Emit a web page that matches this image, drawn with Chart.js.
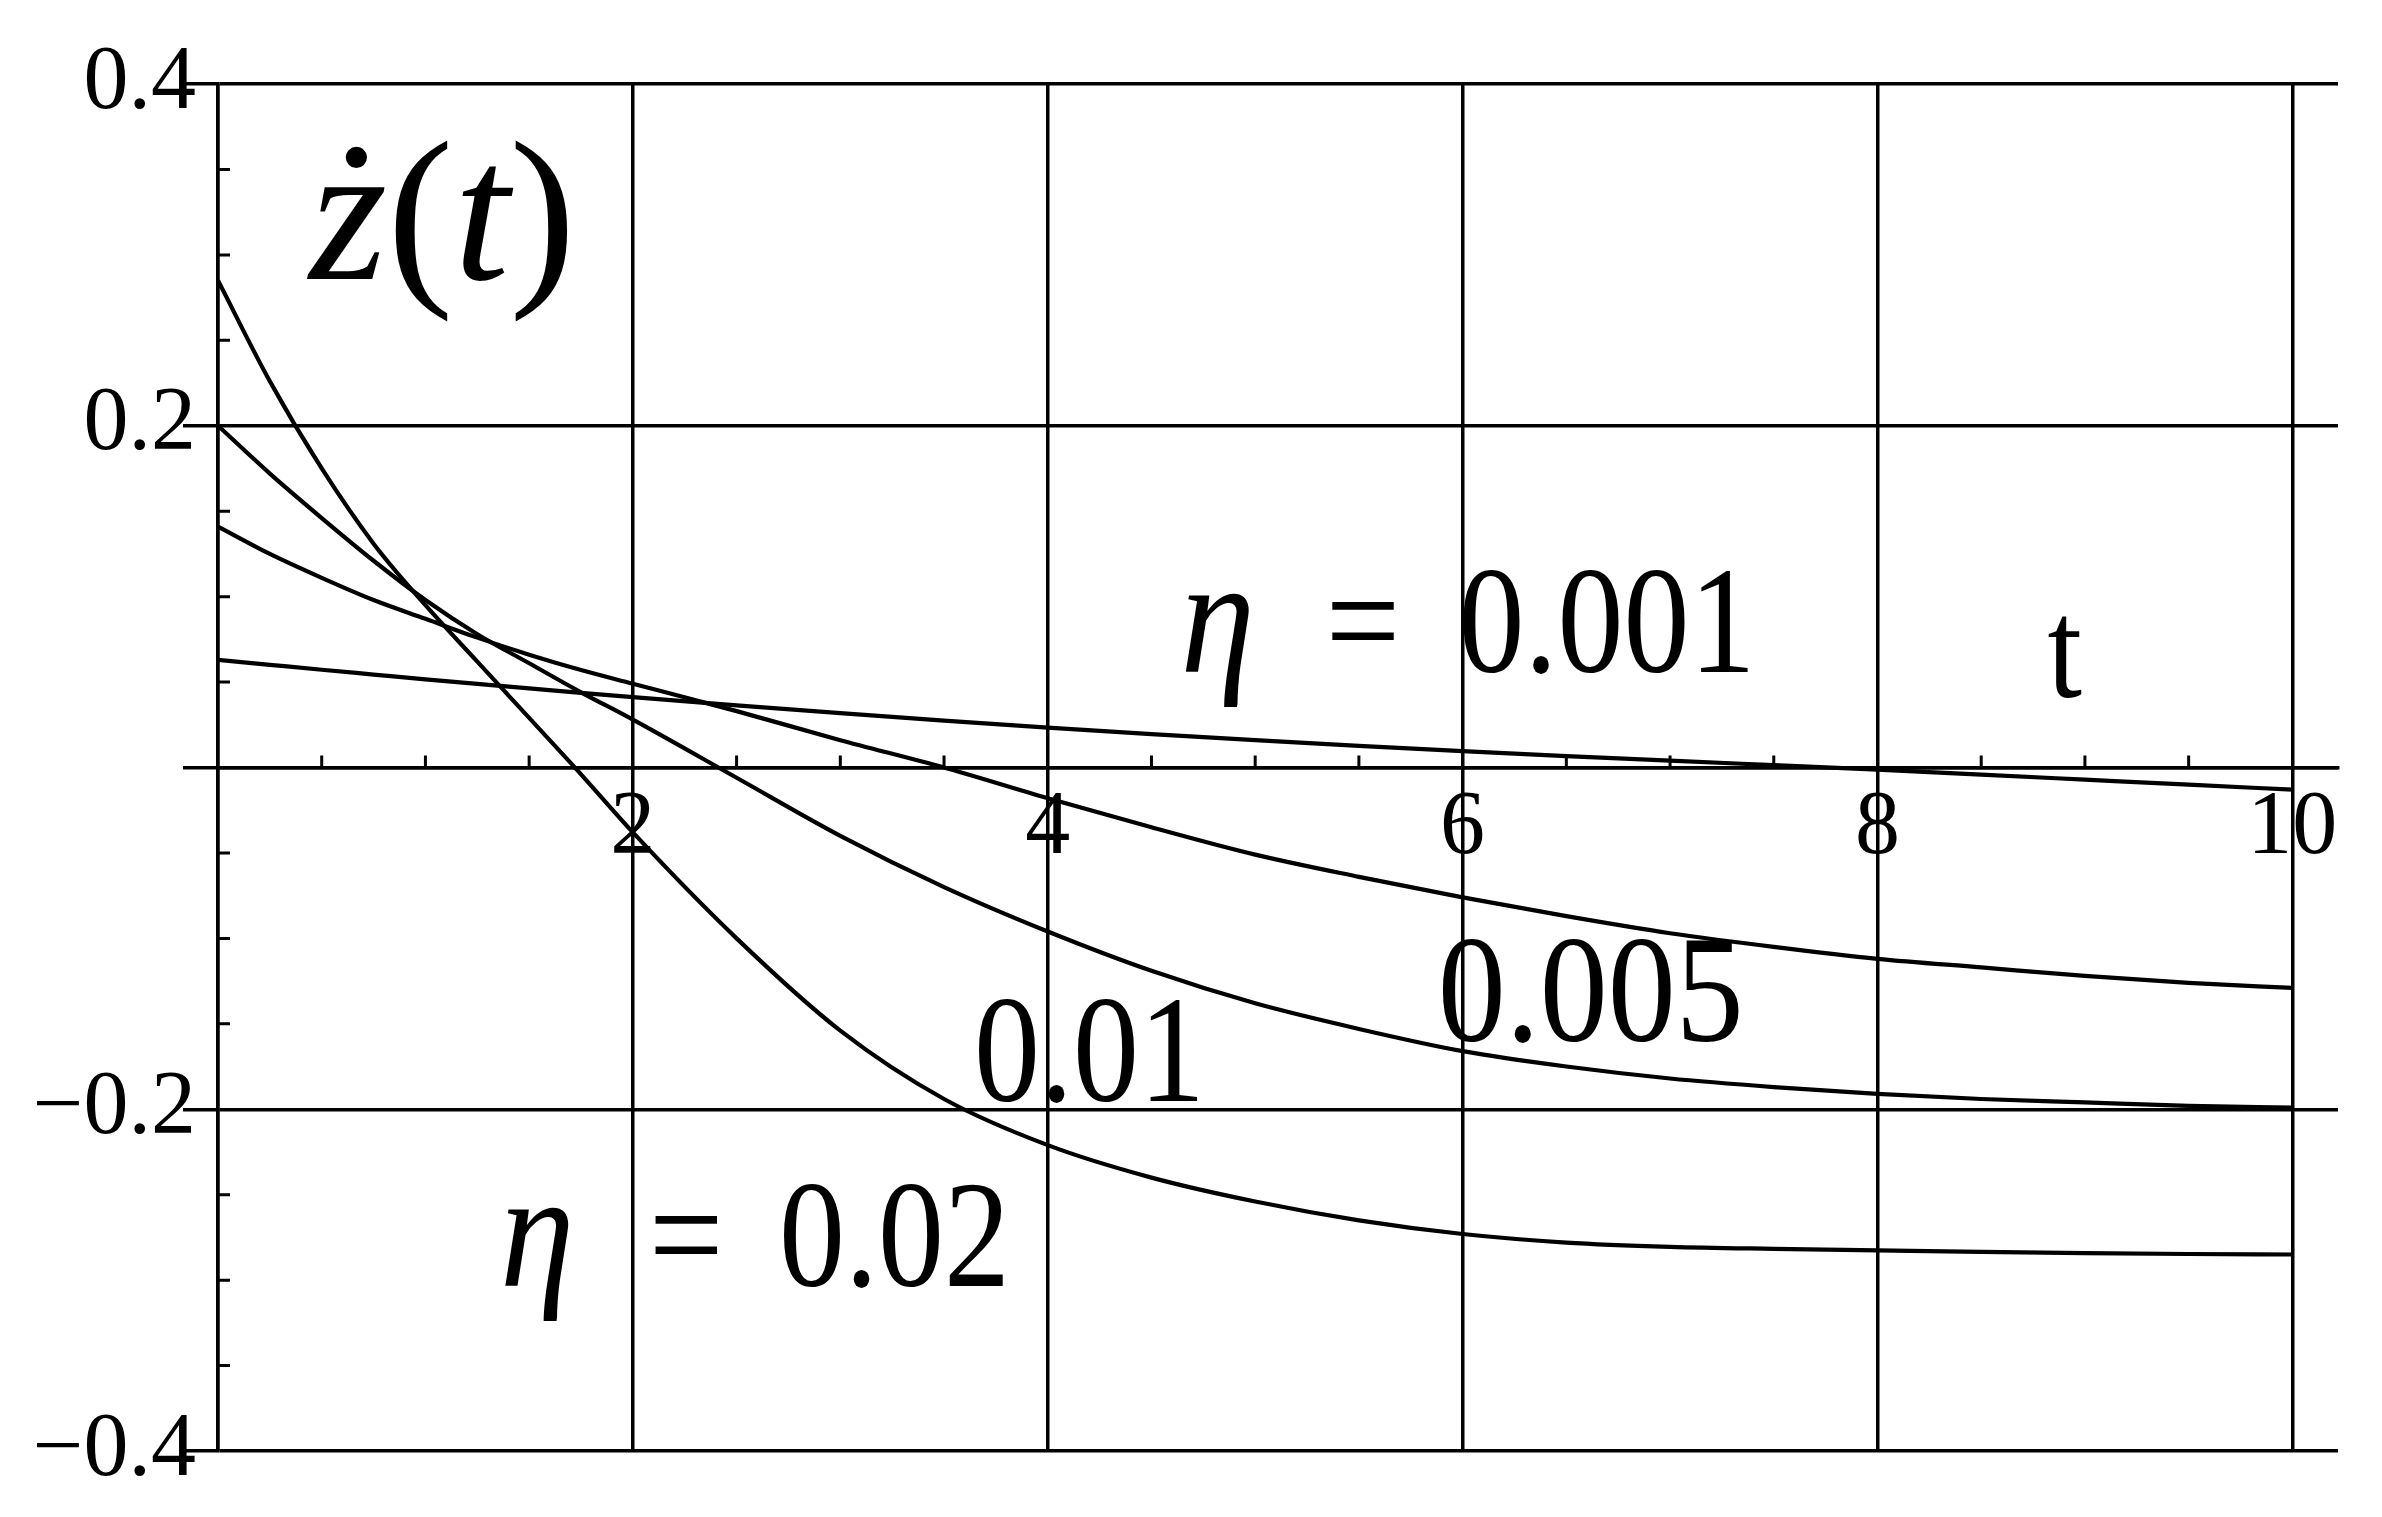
<!DOCTYPE html>
<html>
<head>
<meta charset="utf-8">
<script src="https://cdn.jsdelivr.net/npm/chart.js@4.4.1/dist/chart.umd.min.js"></script>
<style>
  html, body { margin: 0; padding: 0; background: #fff; }
  canvas { display: block; }
</style>
</head>
<body>
<canvas id="zChart" width="2382" height="1517"></canvas>
<script>
// values: every 0.25 in t up to 2, then every 0.5
const tValues = [0, 0.25, 0.5, 0.75, 1, 1.25, 1.5, 1.75, 2, 2.5, 3, 3.5, 4, 4.5, 5, 5.5, 6, 6.5, 7, 7.5, 8, 8.5, 9, 9.5, 10];
const eta0001 = [0.063, 0.0601, 0.0572, 0.0544, 0.0516, 0.0489, 0.0463, 0.0437, 0.0412, 0.0364, 0.0318, 0.0274, 0.0233, 0.0195, 0.016, 0.0127, 0.0096, 0.0067, 0.004, 0.0014, -0.0012, -0.0042, -0.0071, -0.0100, -0.013];
const eta0005 = [0.141, 0.125, 0.111, 0.098, 0.087, 0.076, 0.066, 0.057, 0.049, 0.033, 0.016, 0.000, -0.018, -0.035, -0.051, -0.064, -0.076, -0.087, -0.097, -0.105, -0.112, -0.117, -0.122, -0.126, -0.129];
const eta001 = [0.200, 0.172, 0.146, 0.121, 0.098, 0.078, 0.061, 0.044, 0.028, -0.006, -0.040, -0.070, -0.096, -0.119, -0.138, -0.153, -0.166, -0.175, -0.182, -0.187, -0.191, -0.194, -0.196, -0.198, -0.199];
const eta002 = [0.285, 0.226, 0.175, 0.131, 0.095, 0.062, 0.029, -0.004, -0.038, -0.100, -0.154, -0.194, -0.221, -0.240, -0.254, -0.265, -0.273, -0.278, -0.2805, -0.2817, -0.2826, -0.2835, -0.2842, -0.2847, -0.285];
const seriesNames = ['η = 0.001', 'η = 0.005', 'η = 0.01', 'η = 0.02'];

const xTicks = [0, 2, 4, 6, 8, 10];
const xTickLabels = ['', '2', '4', '6', '8', '10'];
const yTicks = [-0.4, -0.2, 0, 0.2, 0.4];
const yTickLabels = ['\u22120.4', '\u22120.2', '', '0.2', '0.4'];
const xMinorTicks = [0.5, 1, 1.5, 2.5, 3, 3.5, 4.5, 5, 5.5, 6.5, 7, 7.5, 8.5, 9, 9.5];
const yMinorTicks = [-0.35, -0.3, -0.25, -0.15, -0.1, -0.05, 0.05, 0.1, 0.15, 0.25, 0.3, 0.35];

// text drawn inside the plot, placed in data units
const plotLabels = [
  { t: 0.44, v: 0.286, size: 200, stretch: 1, parts: [['ż', true], ['(', false], ['t', true], [')', false]] },
  { t: 4.64, v: 0.0556, size: 150, stretch: 1.1, parts: [['η', true]] },
  { t: 5.34, v: 0.0556, size: 132, stretch: 1.15, parts: [['=', false]] },
  { t: 5.98, v: 0.0556, size: 132, stretch: 1.15, parts: [['0.001', false]] },
  { t: 8.82, v: 0.041, size: 124, stretch: 1.15, parts: [['t', false]] },
  { t: 5.88, v: -0.160, size: 136, stretch: 1.12, parts: [['0.005', false]] },
  { t: 3.645, v: -0.195, size: 132, stretch: 1.15, parts: [['0.01', false]] },
  { t: 1.36, v: -0.3035, size: 150, stretch: 1.1, parts: [['η', true]] },
  { t: 2.078, v: -0.3035, size: 132, stretch: 1.15, parts: [['=', false]] },
  { t: 2.705, v: -0.3035, size: 132, stretch: 1.15, parts: [['0.02', false]] }
];

const serif = '"Liberation Serif", "Times New Roman", serif';

const overlayPlugin = {
  id: 'overlay',
  afterDatasetsDraw(chart) {
    const { ctx, scales: { x, y } } = chart;
    const x0 = x.getPixelForValue(0);
    const y0 = y.getPixelForValue(0);
    ctx.save();
    ctx.strokeStyle = '#000';
    ctx.lineWidth = 3;
    ctx.beginPath();
    yMinorTicks.forEach(v => {
      const py = y.getPixelForValue(v);
      ctx.moveTo(x0, py);
      ctx.lineTo(x0 + 12, py);
    });
    xMinorTicks.forEach(t => {
      const px = x.getPixelForValue(t);
      ctx.moveTo(px, y0);
      ctx.lineTo(px, y0 - 12);
    });
    ctx.stroke();

    ctx.fillStyle = '#000';
    ctx.textBaseline = 'alphabetic';
    ctx.textAlign = 'left';
    plotLabels.forEach(lab => {
      ctx.save();
      ctx.translate(x.getPixelForValue(lab.t), y.getPixelForValue(lab.v));
      ctx.scale(1, lab.stretch);
      let cx = 0;
      lab.parts.forEach(([txt, italic]) => {
        ctx.font = (italic ? 'italic ' : '') + lab.size + 'px ' + serif;
        ctx.fillText(txt, cx, 0);
        cx += ctx.measureText(txt).width;
      });
      ctx.restore();
    });
    ctx.restore();
  }
};

const ctx = document.getElementById('zChart');

new Chart(ctx, {
  type: 'line',
  data: {
    datasets: [eta0001, eta0005, eta001, eta002].map((s, i) => ({
      label: seriesNames[i],
      data: tValues.map((t, j) => ({ x: t, y: s[j] })),
      borderColor: '#000',
      borderWidth: 4.2,
      pointRadius: 0,
      fill: false,
      cubicInterpolationMode: 'monotone'
    }))
  },
  options: {
    responsive: false,
    animation: false,
    devicePixelRatio: 1,
    layout: { padding: { top: 84, right: 44, bottom: 66, left: 0 } },
    plugins: {
      legend: { display: false },
      tooltip: { enabled: false }
    },
    scales: {
      x: {
        type: 'linear',
        position: { y: 0 },
        min: 0,
        max: 10.22,
        afterBuildTicks: scale => { scale.ticks = xTicks.map(v => ({ value: v })); },
        grid: { color: '#000', lineWidth: 3.5, drawTicks: false },
        border: { display: true, color: '#000', width: 3.5 },
        ticks: {
          color: '#000',
          padding: 8,
          maxRotation: 0,
          font: { family: serif, size: 90 },
          callback: (value, index) => xTickLabels[index]
        }
      },
      y: {
        type: 'linear',
        min: -0.4,
        max: 0.4,
        afterBuildTicks: scale => { scale.ticks = yTicks.map(v => ({ value: v })); },
        afterFit: scale => { scale.width = 218; },
        grid: { color: '#000', lineWidth: 3.5, drawTicks: true, tickLength: 35 },
        border: { display: true, color: '#000', width: 3.5 },
        ticks: {
          color: '#000',
          padding: -13,
          font: { family: serif, size: 90 },
          callback: (value, index) => yTickLabels[index]
        }
      }
    }
  },
  plugins: [overlayPlugin]
});
</script>
</body>
</html>
